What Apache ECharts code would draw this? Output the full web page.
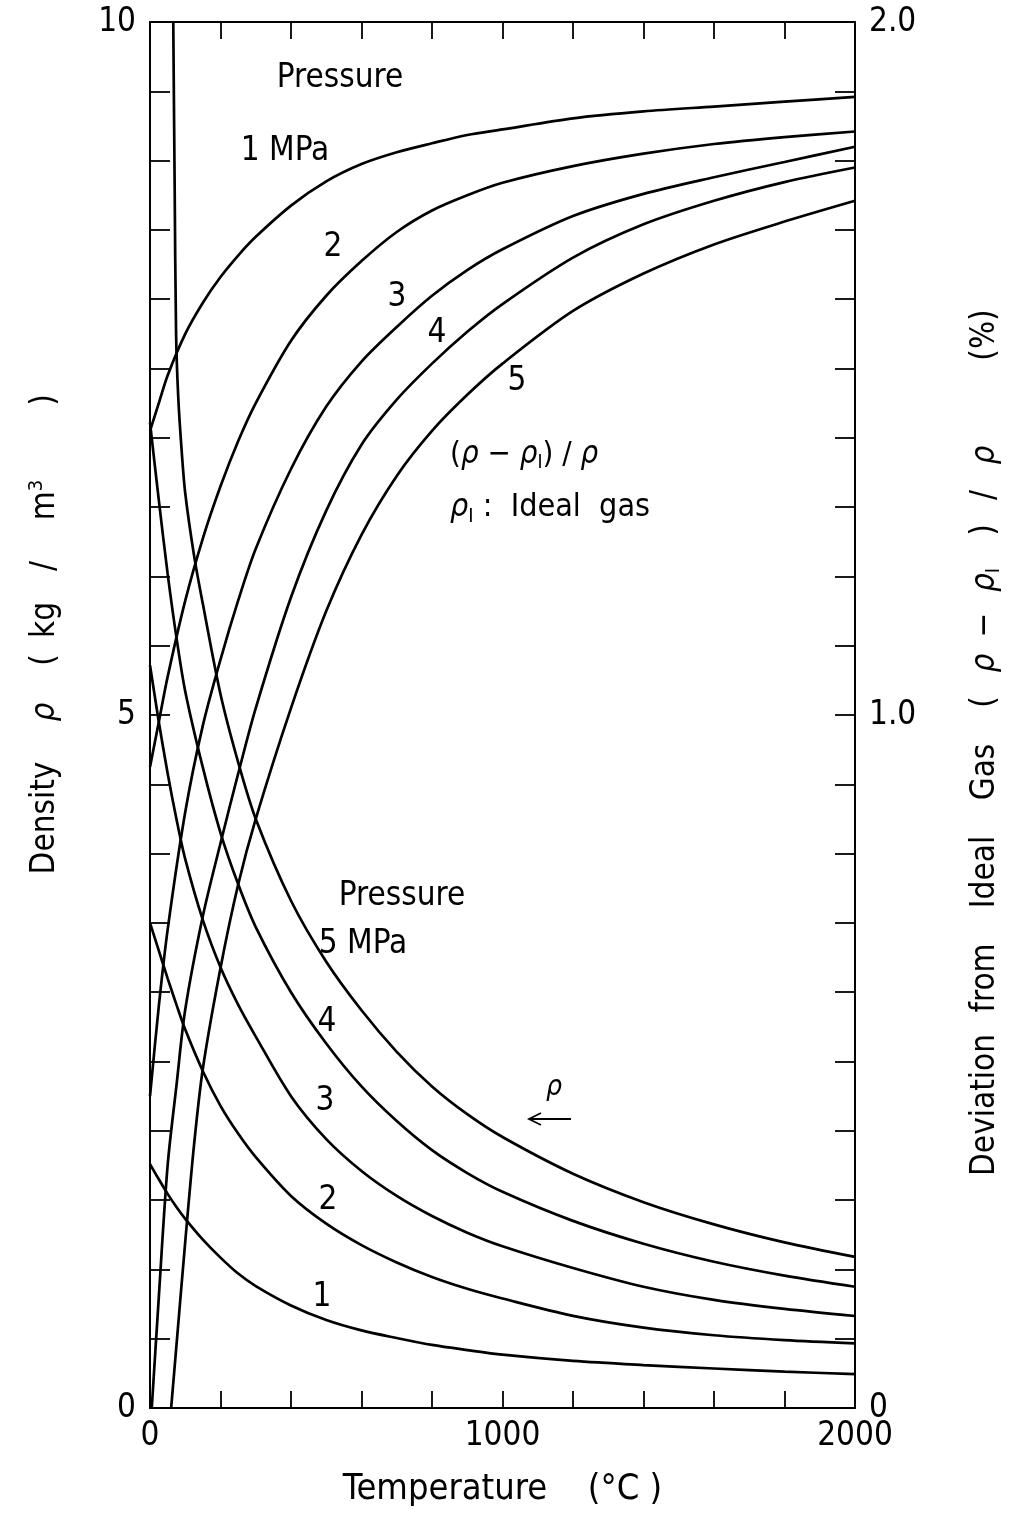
<!DOCTYPE html>
<html>
<head>
<meta charset="utf-8">
<script src="https://cdn.jsdelivr.net/npm/echarts@6/dist/echarts.min.js"></script>
<style>
html,body{margin:0;padding:0;background:#fff;}
#c{width:1009px;height:1519px;}
</style>
</head>
<body>
<div id="c"></div>
<script>
// Temperatures (°C) for density curves 1–4 MPa
const T_dens = [0,25,50,75,100,150,200,250,300,400,500,600,700,800,900,1000,1200,1400,1600,1800,2000];
const dens1 = [1.76,1.65,1.545,1.45,1.365,1.215,1.085,0.97,0.88,0.74,0.635,0.56,0.505,0.455,0.418,0.385,0.34,0.31,0.285,0.262,0.245];
const dens2 = [3.50,3.30,3.10,2.91,2.73,2.43,2.18,1.98,1.81,1.53,1.33,1.175,1.05,0.945,0.86,0.79,0.665,0.58,0.525,0.49,0.466];
const dens3 = [5.36,4.95,4.58,4.25,3.96,3.52,3.18,2.91,2.68,2.25,1.94,1.71,1.53,1.385,1.265,1.167,1.01,0.875,0.78,0.715,0.664];
const dens4 = [7.11,6.55,6.02,5.56,5.17,4.62,4.15,3.78,3.47,3.0,2.63,2.32,2.07,1.86,1.695,1.56,1.35,1.185,1.055,0.955,0.875];
// 5 MPa density curve
const T_dens5 = [66,70,74,80,90,100,125,150,200,250,300,400,500,600,700,800,900,1000,1200,1400,1600,1800,2000];
const dens5 = [10.0,8.8,7.75,7.3,6.9,6.6,6.15,5.8,5.15,4.66,4.25,3.66,3.22,2.87,2.57,2.32,2.12,1.955,1.69,1.485,1.325,1.195,1.09];

// Deviation from ideal gas (%) curves
const T_dev = [0,25,50,100,150,200,250,300,400,500,600,700,800,900,1000,1200,1400,1600,1800,2000];
const dev1 = [1.41,1.45,1.49,1.55,1.595,1.632,1.663,1.69,1.735,1.77,1.795,1.812,1.825,1.837,1.845,1.861,1.871,1.878,1.885,1.892];
const dev2 = [0.925,0.99,1.055,1.165,1.255,1.33,1.395,1.45,1.54,1.605,1.655,1.697,1.728,1.75,1.768,1.792,1.81,1.824,1.834,1.842];
const dev3 = [0.45,0.58,0.69,0.86,0.985,1.08,1.165,1.24,1.355,1.445,1.51,1.56,1.605,1.642,1.672,1.72,1.752,1.776,1.798,1.82];
const T_dev4 = [5,25,50,75,100,150,200,250,300,400,500,600,700,800,900,1000,1200,1400,1600,1800,2000];
const dev4 = [0,0.16,0.35,0.465,0.575,0.71,0.815,0.915,1.01,1.17,1.295,1.39,1.455,1.507,1.553,1.593,1.66,1.708,1.742,1.769,1.79];
const T_dev5 = [60,75,100,125,150,200,250,300,400,500,600,700,800,900,1000,1200,1400,1600,1800,2000];
const dev5 = [0,0.09,0.24,0.38,0.49,0.635,0.755,0.85,1.01,1.15,1.26,1.345,1.41,1.462,1.507,1.583,1.637,1.679,1.712,1.742];

const xTickLabels = ['0','1000','2000'];
const leftTickLabels = ['0','5','10'];
const rightTickLabels = ['0','1.0','2.0'];

const FONT = "'DejaVu Sans Condensed','Liberation Sans Narrow','DejaVu Sans',sans-serif";

function pairs(xs, ys){ return xs.map((x,i)=>[x, ys[i]]); }

const lineStyle = {color:'#000', width:2.7};
function mk(name, xs, ys, yIdx){
  return {name:name, type:'line', xAxisIndex:0, yAxisIndex:yIdx, data:pairs(xs,ys),
    showSymbol:false, smooth:0.3, lineStyle:lineStyle, silent:true, clip:true, z:3};
}

const chart = echarts.init(document.getElementById('c'), null, {renderer:'canvas'});

const axisLine = {show:true, onZero:false, lineStyle:{color:'#000', width:2}};
const tick = (len)=>({show:true, inside:true, length:len, lineStyle:{color:'#000', width:1.8}});
const near = (a,b)=>Math.abs(a-b)<1e-6;
const tickFont = 33;

const option = {
  animation:false,
  backgroundColor:'#fff',
  grid:{left:150, right:154, top:22, bottom:111, containLabel:false},
  xAxis:[
    {type:'value', position:'bottom', min:0, max:2000, interval:200,
     axisLine:axisLine, axisTick:tick(17), splitLine:{show:false},
     axisLabel:{margin:12, fontSize:tickFont, color:'#000', fontFamily:FONT,
       formatter:(v)=> near(v,0)?xTickLabels[0]:near(v,1000)?xTickLabels[1]:near(v,2000)?xTickLabels[2]:''}},
    {type:'value', position:'top', min:0, max:2000, interval:200,
     axisLine:axisLine, axisTick:tick(17), splitLine:{show:false}, axisLabel:{show:false}}
  ],
  yAxis:[
    {type:'value', position:'left', min:0, max:10, interval:0.5,
     axisLine:axisLine, axisTick:tick(20), splitLine:{show:false},
     axisLabel:{margin:14, fontSize:tickFont, color:'#000', fontFamily:FONT,
       formatter:(v)=> near(v,0)?leftTickLabels[0]:near(v,5)?leftTickLabels[1]:near(v,10)?leftTickLabels[2]:''}},
    {type:'value', position:'right', min:0, max:2, interval:0.1,
     axisLine:axisLine, axisTick:tick(20), splitLine:{show:false},
     axisLabel:{margin:14, fontSize:tickFont, color:'#000', fontFamily:FONT,
       formatter:(v)=> near(v,0)?rightTickLabels[0]:near(v,1)?rightTickLabels[1]:near(v,2)?rightTickLabels[2]:''}}
  ],
  series:[
    mk('d1',T_dens,dens1,0), mk('d2',T_dens,dens2,0), mk('d3',T_dens,dens3,0),
    mk('d4',T_dens,dens4,0), mk('d5',T_dens5,dens5,0),
    mk('e1',T_dev,dev1,1), mk('e2',T_dev,dev2,1), mk('e3',T_dev,dev3,1),
    mk('e4',T_dev4,dev4,1), mk('e5',T_dev5,dev5,1)
  ]
};

function txt(x,y,text,size,opts){
  opts = opts||{};
  return {type:'text', x:x, y:y, rotation:opts.rotation||0, z:10,
    style:{text:text, fill:'#000', fontSize:size, fontFamily:FONT,
      fontStyle:opts.italic?'italic':'normal',
      align:opts.align||'center', verticalAlign:'middle', rich:opts.rich}};
}
const subRich = (size)=>({
  s:{fontSize:Math.round(size*0.62), fontFamily:FONT, fill:'#000', padding:[Math.round(size*0.55),0,0,0]},
  sup:{fontSize:Math.round(size*0.62), fontFamily:FONT, fill:'#000', padding:[0,0,Math.round(size*0.5),0]},
  r:{fontSize:size, fontFamily:FONT, fill:'#000', fontStyle:'italic'}
});
const R = Math.PI/2;
const AF = 33; // axis-title font

option.graphic = [
  // upper annotations (deviation)
  txt(340,78,'Pressure',33),
  txt(285,151,'1 MPa',33),
  txt(333,247,'2',33),
  txt(397,297,'3',33),
  txt(437,333,'4',33),
  txt(517,381,'5',33),
  txt(450,455,'({r|ρ} − {r|ρ}{s|I}) / {r|ρ}',31,{align:'left', rich:subRich(31)}),
  txt(450,508,'{r|ρ}{s|I} :  Ideal  gas',32,{align:'left', rich:subRich(32)}),
  // lower annotations (density)
  txt(402,896,'Pressure',33),
  txt(363,944,'5 MPa',33),
  txt(327,1022,'4',33),
  txt(325,1101,'3',33),
  txt(328,1200,'2',33),
  txt(322,1297,'1',33),
  txt(554,1088,'ρ',28,{italic:true}),
  {type:'line', z:10, shape:{x1:571,y1:1119,x2:529,y2:1119}, style:{stroke:'#000', lineWidth:1.8}},
  {type:'polyline', z:10, shape:{points:[[541,1113],[529,1119],[541,1125]]}, style:{stroke:'#000', lineWidth:1.8, fill:null}},
  // x-axis title
  txt(445,1490,'Temperature',36),
  txt(625,1490,'(°C )',36),
  // left axis title (reads bottom to top)
  txt(45,818,'Density',AF,{rotation:R}),
  txt(45,712,'ρ',AF,{rotation:R, italic:true}),
  txt(45,660,'(',AF,{rotation:R}),
  txt(45,620,'kg',AF,{rotation:R}),
  txt(45,566,'/',AF,{rotation:R}),
  txt(45,500,'m{sup|3}',AF,{rotation:R, rich:subRich(AF)}),
  txt(45,400,')',AF,{rotation:R}),
  // right axis title
  txt(985,1105,'Deviation',AF,{rotation:R}),
  txt(985,978,'from',AF,{rotation:R}),
  txt(985,872,'Ideal',AF,{rotation:R}),
  txt(985,772,'Gas',AF,{rotation:R}),
  txt(985,702,'(',AF,{rotation:R}),
  txt(985,663,'ρ',AF,{rotation:R, italic:true}),
  txt(985,625,'−',AF,{rotation:R}),
  txt(985,580,'{r|ρ}{s|I}',AF,{rotation:R, rich:subRich(AF)}),
  txt(985,530,')',AF,{rotation:R}),
  txt(985,495,'/',AF,{rotation:R}),
  txt(985,455,'ρ',AF,{rotation:R, italic:true}),
  txt(985,335,'(%)',AF,{rotation:R})
];

chart.setOption(option);
</script>
</body>
</html>
